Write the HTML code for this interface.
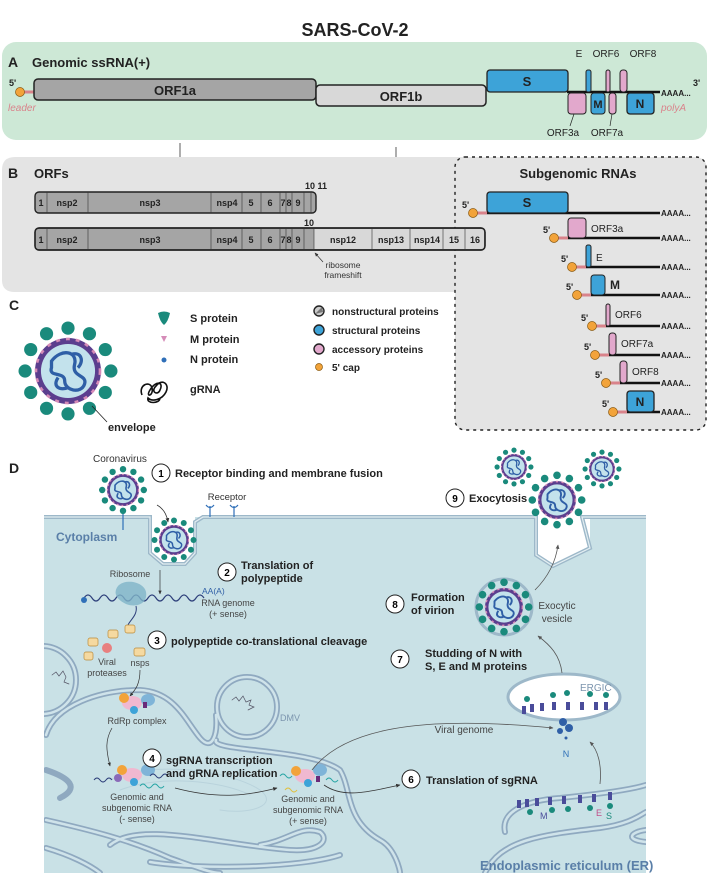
<!DOCTYPE html>
<html><head><meta charset="utf-8"><style>
html,body{margin:0;padding:0;background:#fff}
svg{display:block}
text{font-family:"Liberation Sans Narrow","Liberation Sans",sans-serif}
.b{font-weight:bold}
</style></head><body>
<svg width="709" height="888" viewBox="0 0 709 888" xmlns="http://www.w3.org/2000/svg">
<defs>
<marker id="ar" viewBox="0 0 10 10" refX="8" refY="5" markerWidth="6" markerHeight="6" orient="auto"><path d="M0,1 L9,5 L0,9 z" fill="#333"/></marker>
<marker id="ag" viewBox="0 0 10 10" refX="8" refY="5" markerWidth="6" markerHeight="6" orient="auto"><path d="M0,1 L9,5 L0,9 z" fill="#555"/></marker>
<clipPath id="cell"><rect x="44" y="517" width="602" height="356"/></clipPath>
<g id="vir">
 <g fill="#1a8a7c">
  <circle cx="0" cy="-1.3" r="0.2"/><circle cx="0.65" cy="-1.13" r="0.2"/><circle cx="1.13" cy="-0.65" r="0.2"/><circle cx="1.3" cy="0" r="0.2"/><circle cx="1.13" cy="0.65" r="0.2"/><circle cx="0.65" cy="1.13" r="0.2"/><circle cx="0" cy="1.3" r="0.2"/><circle cx="-0.65" cy="1.13" r="0.2"/><circle cx="-1.13" cy="0.65" r="0.2"/><circle cx="-1.3" cy="0" r="0.2"/><circle cx="-1.13" cy="-0.65" r="0.2"/><circle cx="-0.65" cy="-1.13" r="0.2"/>
 </g>
 <circle r="1" fill="#5b3e8e"/>
 <circle r="0.97" fill="none" stroke="#d58cb8" stroke-width="0.08" stroke-dasharray="0.12 0.18"/>
 <circle r="0.82" fill="#c3e2ec"/>
 <path d="M-0.5,-0.3 C-0.2,-0.7 0.3,-0.6 0.2,-0.2 C0.1,0.2 0.6,0.1 0.5,0.4 C0.4,0.7 -0.1,0.6 -0.1,0.3 C-0.1,0 -0.6,0.2 -0.5,-0.1 Z M-0.3,0.2 C-0.5,0.5 -0.2,0.6 0,0.5 M0.1,-0.5 C0.4,-0.6 0.5,-0.3 0.3,-0.1" fill="none" stroke="#2f5fa6" stroke-width="0.1"/>
</g>
</defs>

<text x="355" y="36" text-anchor="middle" class="b" font-size="18" fill="#222">SARS-CoV-2</text>

<!-- Panel A -->
<rect x="2" y="42" width="705" height="98" rx="14" fill="#cde8d6"/>
<text x="8" y="67" class="b" font-size="14" fill="#222">A</text>
<text x="32" y="67" class="b" font-size="13" fill="#222">Genomic ssRNA(+)</text>
<line x1="22" y1="92" x2="34" y2="92" stroke="#d9838b" stroke-width="3"/>
<circle cx="20" cy="92" r="4.5" fill="#f2a33a" stroke="#8a5a10" stroke-width="0.7"/>
<text x="9" y="86" class="b" font-size="9" fill="#222">5'</text>
<text x="8" y="111" font-size="10" font-style="italic" fill="#d9838b">leader</text>
<line x1="567" y1="92" x2="660" y2="92" stroke="#111" stroke-width="2.5"/>
<rect x="34" y="79" width="282" height="21" rx="4" fill="#a5a5a5" stroke="#222" stroke-width="1.5"/>
<text x="175" y="95" text-anchor="middle" class="b" font-size="13" fill="#222">ORF1a</text>
<rect x="316" y="85" width="170" height="21" rx="4" fill="#d8d8d8" stroke="#222" stroke-width="1.5"/>
<text x="401" y="101" text-anchor="middle" class="b" font-size="13" fill="#222">ORF1b</text>
<rect x="487" y="70" width="81" height="22" rx="3" fill="#3da3d8" stroke="#222" stroke-width="1.3"/>
<text x="527" y="86" text-anchor="middle" class="b" font-size="13" fill="#222">S</text>
<rect x="586" y="70" width="5" height="22" rx="2" fill="#3da3d8" stroke="#222" stroke-width="1"/>
<rect x="606" y="70" width="4" height="22" rx="2" fill="#e2a8cc" stroke="#222" stroke-width="1"/>
<rect x="620" y="70" width="7" height="22" rx="3" fill="#e2a8cc" stroke="#222" stroke-width="1"/>
<rect x="568" y="93" width="18" height="21" rx="3" fill="#e2a8cc" stroke="#222" stroke-width="1"/>
<rect x="591" y="93" width="14" height="21" rx="3" fill="#3da3d8" stroke="#222" stroke-width="1"/>
<text x="598" y="108" text-anchor="middle" class="b" font-size="11" fill="#222">M</text>
<rect x="609" y="93" width="7" height="21" rx="3" fill="#e2a8cc" stroke="#222" stroke-width="1"/>
<rect x="627" y="93" width="27" height="21" rx="3" fill="#3da3d8" stroke="#222" stroke-width="1.3"/>
<text x="640" y="108" text-anchor="middle" class="b" font-size="12" fill="#222">N</text>
<text x="579" y="57" text-anchor="middle" font-size="10" fill="#222">E</text>
<text x="606" y="57" text-anchor="middle" font-size="10" fill="#222">ORF6</text>
<text x="643" y="57" text-anchor="middle" font-size="10" fill="#222">ORF8</text>
<text x="563" y="136" text-anchor="middle" font-size="10" fill="#222">ORF3a</text>
<text x="607" y="136" text-anchor="middle" font-size="10" fill="#222">ORF7a</text>
<line x1="574" y1="114" x2="570" y2="126" stroke="#222" stroke-width="0.7"/>
<line x1="612" y1="114" x2="610" y2="126" stroke="#222" stroke-width="0.7"/>
<text x="661" y="96" class="b" font-size="8" fill="#222">AAAA...</text>
<text x="693" y="86" class="b" font-size="9" fill="#222">3'</text>
<text x="661" y="111" font-size="10" font-style="italic" fill="#d9838b">polyA</text>

<line x1="180" y1="143" x2="180" y2="176" stroke="#333" stroke-width="0.8" marker-end="url(#ar)"/>
<line x1="396" y1="147" x2="396" y2="218" stroke="#333" stroke-width="0.8" marker-end="url(#ar)"/>

<!-- Panel B -->
<path d="M2,170 Q2,157 15,157 L694,157 Q707,157 707,170 L707,292 L15,292 Q2,292 2,280 Z" fill="#e4e4e4"/>
<rect x="455" y="157" width="251" height="273" rx="10" fill="#e4e4e4" stroke="#222" stroke-width="1.4" stroke-dasharray="3 4"/>
<text x="8" y="178" class="b" font-size="14" fill="#222">B</text>
<text x="34" y="178" class="b" font-size="13" fill="#222">ORFs</text>

<g font-size="9" fill="#222" text-anchor="middle" class="b">
<rect x="35" y="192" width="281" height="21" rx="4" fill="#a5a5a5" stroke="#222" stroke-width="1.4"/>
<g stroke="#333" stroke-width="0.6">
<line x1="47" y1="192" x2="47" y2="213"/><line x1="88" y1="192" x2="88" y2="213"/><line x1="211" y1="192" x2="211" y2="213"/><line x1="242" y1="192" x2="242" y2="213"/><line x1="261" y1="192" x2="261" y2="213"/><line x1="280" y1="192" x2="280" y2="213"/><line x1="286" y1="192" x2="286" y2="213"/><line x1="292" y1="192" x2="292" y2="213"/><line x1="304" y1="192" x2="304" y2="213"/><line x1="311" y1="192" x2="311" y2="213"/>
</g>
<text x="41" y="206">1</text><text x="67" y="206">nsp2</text><text x="150" y="206">nsp3</text><text x="227" y="206">nsp4</text><text x="251" y="206">5</text><text x="270" y="206">6</text><text x="283" y="206">7</text><text x="289" y="206">8</text><text x="298" y="206">9</text>
<text x="316" y="189">10 11</text>

<rect x="35" y="228" width="450" height="22" rx="4" fill="#a5a5a5" stroke="#222" stroke-width="1.4"/>
<path d="M314,229 L481,229 Q484,229 484,232 L484,246 Q484,249 481,249 L314,249 Z" fill="#d8d8d8"/>
<rect x="35" y="228" width="450" height="22" rx="4" fill="none" stroke="#222" stroke-width="1.4"/>
<g stroke="#333" stroke-width="0.6">
<line x1="47" y1="228" x2="47" y2="250"/><line x1="88" y1="228" x2="88" y2="250"/><line x1="211" y1="228" x2="211" y2="250"/><line x1="242" y1="228" x2="242" y2="250"/><line x1="261" y1="228" x2="261" y2="250"/><line x1="280" y1="228" x2="280" y2="250"/><line x1="286" y1="228" x2="286" y2="250"/><line x1="292" y1="228" x2="292" y2="250"/><line x1="304" y1="228" x2="304" y2="250"/><line x1="314" y1="228" x2="314" y2="250"/><line x1="372" y1="228" x2="372" y2="250"/><line x1="410" y1="228" x2="410" y2="250"/><line x1="443" y1="228" x2="443" y2="250"/><line x1="465" y1="228" x2="465" y2="250"/>
</g>
<text x="41" y="243">1</text><text x="67" y="243">nsp2</text><text x="150" y="243">nsp3</text><text x="227" y="243">nsp4</text><text x="251" y="243">5</text><text x="270" y="243">6</text><text x="283" y="243">7</text><text x="289" y="243">8</text><text x="298" y="243">9</text>
<text x="309" y="226">10</text>
<text x="343" y="243">nsp12</text><text x="391" y="243">nsp13</text><text x="427" y="243">nsp14</text><text x="454" y="243">15</text><text x="475" y="243">16</text>
</g>
<line x1="323" y1="262" x2="315" y2="253" stroke="#333" stroke-width="0.7" marker-end="url(#ar)"/>
<text x="343" y="268" text-anchor="middle" font-size="8.5" fill="#333">ribosome</text>
<text x="343" y="278" text-anchor="middle" font-size="8.5" fill="#333">frameshift</text>

<!-- Subgenomic RNAs -->
<text x="578" y="178" text-anchor="middle" class="b" font-size="13" fill="#222">Subgenomic RNAs</text>
<g font-size="8" fill="#222" class="b">
<line x1="475" y1="213" x2="487" y2="213" stroke="#d9838b" stroke-width="3"/><line x1="487" y1="213" x2="660" y2="213" stroke="#111" stroke-width="2.5"/>
<rect x="487" y="192" width="81" height="21" rx="3" fill="#3da3d8" stroke="#222" stroke-width="1.3"/>
<text x="527" y="207" text-anchor="middle" font-size="13">S</text>
<circle cx="473" cy="213" r="4.5" fill="#f2a33a" stroke="#8a5a10" stroke-width="0.7"/><text x="462" y="208" font-size="9">5'</text><text x="661" y="216">AAAA...</text>
<line x1="556" y1="238" x2="568" y2="238" stroke="#d9838b" stroke-width="3"/><line x1="568" y1="238" x2="660" y2="238" stroke="#111" stroke-width="2.5"/>
<rect x="568" y="218" width="18" height="20" rx="3" fill="#e2a8cc" stroke="#222" stroke-width="1"/>
<circle cx="554" cy="238" r="4.5" fill="#f2a33a" stroke="#8a5a10" stroke-width="0.7"/><text x="543" y="233" font-size="9">5'</text><text x="661" y="241">AAAA...</text>
<text x="591" y="232" font-size="10" font-weight="normal">ORF3a</text>
<line x1="574" y1="267" x2="586" y2="267" stroke="#d9838b" stroke-width="3"/><line x1="586" y1="267" x2="660" y2="267" stroke="#111" stroke-width="2.5"/>
<rect x="586" y="245" width="5" height="22" rx="2" fill="#3da3d8" stroke="#222" stroke-width="1"/>
<circle cx="572" cy="267" r="4.5" fill="#f2a33a" stroke="#8a5a10" stroke-width="0.7"/><text x="561" y="262" font-size="9">5'</text><text x="661" y="270">AAAA...</text>
<text x="596" y="261" font-size="10" font-weight="normal">E</text>
<line x1="579" y1="295" x2="591" y2="295" stroke="#d9838b" stroke-width="3"/><line x1="591" y1="295" x2="660" y2="295" stroke="#111" stroke-width="2.5"/>
<rect x="591" y="275" width="14" height="20" rx="3" fill="#3da3d8" stroke="#222" stroke-width="1"/>
<circle cx="577" cy="295" r="4.5" fill="#f2a33a" stroke="#8a5a10" stroke-width="0.7"/><text x="566" y="290" font-size="9">5'</text><text x="661" y="298">AAAA...</text>
<text x="610" y="289" font-size="12">M</text>
<line x1="594" y1="326" x2="606" y2="326" stroke="#d9838b" stroke-width="3"/><line x1="606" y1="326" x2="660" y2="326" stroke="#111" stroke-width="2.5"/>
<rect x="606" y="304" width="4" height="22" rx="2" fill="#e2a8cc" stroke="#222" stroke-width="1"/>
<circle cx="592" cy="326" r="4.5" fill="#f2a33a" stroke="#8a5a10" stroke-width="0.7"/><text x="581" y="321" font-size="9">5'</text><text x="661" y="329">AAAA...</text>
<text x="615" y="318" font-size="10" font-weight="normal">ORF6</text>
<line x1="597" y1="355" x2="609" y2="355" stroke="#d9838b" stroke-width="3"/><line x1="609" y1="355" x2="660" y2="355" stroke="#111" stroke-width="2.5"/>
<rect x="609" y="333" width="7" height="22" rx="3" fill="#e2a8cc" stroke="#222" stroke-width="1"/>
<circle cx="595" cy="355" r="4.5" fill="#f2a33a" stroke="#8a5a10" stroke-width="0.7"/><text x="584" y="350" font-size="9">5'</text><text x="661" y="358">AAAA...</text>
<text x="621" y="347" font-size="10" font-weight="normal">ORF7a</text>
<line x1="608" y1="383" x2="620" y2="383" stroke="#d9838b" stroke-width="3"/><line x1="620" y1="383" x2="660" y2="383" stroke="#111" stroke-width="2.5"/>
<rect x="620" y="361" width="7" height="22" rx="3" fill="#e2a8cc" stroke="#222" stroke-width="1"/>
<circle cx="606" cy="383" r="4.5" fill="#f2a33a" stroke="#8a5a10" stroke-width="0.7"/><text x="595" y="378" font-size="9">5'</text><text x="661" y="386">AAAA...</text>
<text x="632" y="375" font-size="10" font-weight="normal">ORF8</text>
<line x1="615" y1="412" x2="627" y2="412" stroke="#d9838b" stroke-width="3"/><line x1="627" y1="412" x2="660" y2="412" stroke="#111" stroke-width="2.5"/>
<rect x="627" y="391" width="27" height="21" rx="3" fill="#3da3d8" stroke="#222" stroke-width="1.3"/>
<text x="640" y="406" text-anchor="middle" font-size="12">N</text>
<circle cx="613" cy="412" r="4.5" fill="#f2a33a" stroke="#8a5a10" stroke-width="0.7"/><text x="602" y="407" font-size="9">5'</text><text x="661" y="415">AAAA...</text>
</g>

<!-- Panel C -->
<text x="9" y="310" class="b" font-size="14" fill="#222">C</text>
<use href="#vir" transform="translate(68,371) scale(33)"/>
<line x1="92" y1="406" x2="107" y2="422" stroke="#222" stroke-width="0.8"/>
<text x="108" y="431" class="b" font-size="11" fill="#222">envelope</text>
<path d="M158,313 Q164,310 170,313 Q168,322 164,325 Q160,322 158,313 Z" fill="#1a8a7c"/>
<text x="190" y="322" class="b" font-size="11" fill="#222">S protein</text>
<path d="M161,336 L167,336 L164,342 Z" fill="#d58cb8"/>
<text x="190" y="343" class="b" font-size="11" fill="#222">M protein</text>
<circle cx="164" cy="360" r="2.5" fill="#2f6fb8"/>
<text x="190" y="363" class="b" font-size="11" fill="#222">N protein</text>
<path d="M142,395 C138,385 150,380 152,388 C154,396 145,398 150,390 C156,380 164,382 160,390 C158,396 150,392 156,386 C162,378 170,384 166,392 C162,400 152,402 148,398 C146,404 160,404 160,398" fill="none" stroke="#111" stroke-width="1.6"/>
<text x="190" y="393" class="b" font-size="11" fill="#222">gRNA</text>
<circle cx="319" cy="311" r="5" fill="#ccc" stroke="#222" stroke-width="1.4"/><path d="M315,314 L322,307 L323,312 Z" fill="#777"/>
<text x="332" y="315" class="b" font-size="10" fill="#222">nonstructural proteins</text>
<circle cx="319" cy="330" r="5" fill="#3da3d8" stroke="#222" stroke-width="1.4"/>
<text x="332" y="334" class="b" font-size="10" fill="#222">structural proteins</text>
<circle cx="319" cy="349" r="5" fill="#e2a8cc" stroke="#222" stroke-width="1.4"/>
<text x="332" y="353" class="b" font-size="10" fill="#222">accessory proteins</text>
<circle cx="319" cy="367" r="3.5" fill="#f2a33a" stroke="#8a5a10" stroke-width="0.7"/>
<text x="332" y="371" class="b" font-size="10" fill="#222">5' cap</text>

<!-- Panel D -->
<text x="9" y="473" class="b" font-size="14" fill="#222">D</text>
<text x="93" y="462" font-size="10" fill="#333">Coronavirus</text>
<path d="M44,517 L150,517 L150,553 L163,564 L185,564 L195,553 L195,517 L536,517 L536,555 L553,566 L590,548 L590,517 L646,517 L646,873 L44,873 Z" fill="#c9e1e6"/>
<path d="M44,517 L150,517 L150,553 L163,564 L185,564 L195,553 L195,522 L203,517 L536,517 L536,555 L553,566 L590,548 L582,517 L646,517" fill="none" stroke="#9db8c9" stroke-width="4"/>
<path d="M44,517 L150,517 L150,553 L163,564 L185,564 L195,553 L195,522 L203,517 L536,517 L536,555 L553,566 L590,548 L582,517 L646,517" fill="none" stroke="#e3eef2" stroke-width="1.2"/>
<path d="M538,520 L538,553 L553,562 L586,547 L580,520 Z" fill="#fff"/>
<g stroke="#2f6fb8" stroke-width="1.2" fill="none">
<path d="M210,506 L210,517 M206,505 Q210,510 214,505"/>
<path d="M234,506 L234,517 M230,505 Q234,510 238,505"/>
<path d="M123,510 L123,530"/>
</g>
<text x="227" y="500" text-anchor="middle" font-size="9.5" fill="#333">Receptor</text>
<text x="56" y="541" class="b" font-size="12" fill="#5a7fa8">Cytoplasm</text>

<use href="#vir" transform="translate(123,490) scale(16)"/>
<use href="#vir" transform="translate(174,540) scale(15)"/>
<use href="#vir" transform="translate(557,500) scale(19)"/>
<use href="#vir" transform="translate(514,467) scale(13)"/>
<use href="#vir" transform="translate(602,469) scale(13)"/>
<path d="M157,505 Q166,510 168,522" fill="none" stroke="#333" stroke-width="0.8" marker-end="url(#ar)"/>

<circle cx="161" cy="473" r="9" fill="#fff" stroke="#222" stroke-width="1"/><text x="161" y="477" text-anchor="middle" class="b" font-size="10">1</text>
<text x="175" y="477" class="b" font-size="11" fill="#222">Receptor binding and membrane fusion</text>
<circle cx="455" cy="498" r="9" fill="#fff" stroke="#222" stroke-width="1"/><text x="455" y="502" text-anchor="middle" class="b" font-size="10">9</text>
<text x="469" y="502" class="b" font-size="11" fill="#222">Exocytosis</text>

<!-- ER membranes -->
<g fill="none" stroke-linecap="round" clip-path="url(#cell)">
<g stroke="#8fa9c0" stroke-width="6">
<path d="M46,735 C55,705 100,690 140,690 C175,692 185,720 200,738 C212,752 218,735 216,715"/>
<path d="M216,740 C210,752 310,748 340,770 C352,790 345,820 380,840 C395,848 400,870 400,873"/>
<path d="M46,820 C90,830 130,840 170,858 C190,865 210,873 220,873"/>
<path d="M46,848 C70,855 90,865 100,873"/>
<path d="M110,845 C140,820 220,845 290,850 C320,852 330,840 320,832 C300,825 290,840 260,845"/>
<path d="M150,862 C200,870 300,868 340,855"/>
<path d="M485,873 C500,840 540,835 600,828 C630,824 640,815 646,812"/>
<path d="M505,832 C500,810 530,800 560,798 C600,794 630,790 646,785"/>
<path d="M646,830 C630,832 625,840 646,842"/>
<path d="M46,770 C70,778 80,788 60,798"/>
<circle cx="247" cy="707" r="30"/>
<circle cx="42" cy="680" r="34"/>
</g>
<g stroke="#cfe3ea" stroke-width="2.5">
<path d="M46,735 C55,705 100,690 140,690 C175,692 185,720 200,738 C212,752 218,735 216,715"/>
<path d="M216,740 C210,752 310,748 340,770 C352,790 345,820 380,840 C395,848 400,870 400,873"/>
<path d="M46,820 C90,830 130,840 170,858 C190,865 210,873 220,873"/>
<path d="M46,848 C70,855 90,865 100,873"/>
<path d="M110,845 C140,820 220,845 290,850 C320,852 330,840 320,832 C300,825 290,840 260,845"/>
<path d="M150,862 C200,870 300,868 340,855"/>
<path d="M485,873 C500,840 540,835 600,828 C630,824 640,815 646,812"/>
<path d="M505,832 C500,810 530,800 560,798 C600,794 630,790 646,785"/>
<path d="M646,830 C630,832 625,840 646,842"/>
<circle cx="247" cy="707" r="30"/>
<circle cx="42" cy="680" r="34"/>
</g>
<path d="M110,780 C150,760 230,770 260,790 C280,805 250,815 220,810" stroke="#b9d3dc" stroke-width="1"/>
<path d="M120,790 C160,775 220,780 250,795" stroke="#b9d3dc" stroke-width="1"/>
<path d="M232,700 l4,-3 l3,4 l4,-5 l3,6 l5,-2 l-2,5 l5,2 l-6,3" stroke="#556" stroke-width="0.7"/>
<path d="M52,675 l4,-3 l3,4 l4,-5 l3,6 l-2,5 l5,2" stroke="#556" stroke-width="0.7"/>
</g>
<text x="280" y="721" font-size="9" fill="#7c95ae">DMV</text>

<!-- ERGIC -->
<ellipse cx="564" cy="697" rx="56" ry="23" fill="#fff" stroke="#9db8c9" stroke-width="3"/>
<text x="580" y="691" font-size="10" fill="#7c95ae">ERGIC</text>
<g fill="#4a4c9a"><rect x="522" y="706" width="4" height="8"/><rect x="530" y="704" width="4" height="8"/><rect x="540" y="703" width="4" height="8"/><rect x="552" y="702" width="4" height="8"/><rect x="566" y="702" width="4" height="8"/><rect x="580" y="702" width="4" height="8"/><rect x="594" y="702" width="4" height="8"/><rect x="604" y="702" width="4" height="8"/></g>
<g fill="#1a8a7c"><circle cx="527" cy="699" r="3"/><circle cx="553" cy="695" r="3"/><circle cx="567" cy="693" r="3"/><circle cx="590" cy="694" r="3"/><circle cx="606" cy="695" r="3"/></g>
<g fill="#2f5fa6"><circle cx="563" cy="722" r="4"/><circle cx="569" cy="728" r="4"/><circle cx="560" cy="731" r="3"/><circle cx="566" cy="738" r="1.5"/></g>
<text x="566" y="757" text-anchor="middle" font-size="9" fill="#2f6fb8">N</text>
<g fill="#4a4c9a"><rect x="517" y="800" width="4" height="8"/><rect x="525" y="799" width="4" height="8"/><rect x="535" y="798" width="4" height="8"/><rect x="548" y="797" width="4" height="8"/><rect x="562" y="796" width="4" height="8"/><rect x="578" y="795" width="4" height="8"/><rect x="592" y="794" width="4" height="8"/><rect x="608" y="792" width="4" height="8"/></g>
<g fill="#1a8a7c"><circle cx="530" cy="812" r="3"/><circle cx="552" cy="810" r="3"/><circle cx="568" cy="809" r="3"/><circle cx="590" cy="808" r="3"/><circle cx="610" cy="806" r="3"/></g>
<text x="540" y="819" font-size="9" fill="#4a4c9a">M</text>
<text x="596" y="816" font-size="9" fill="#c0508a">E</text>
<text x="606" y="819" font-size="9" fill="#1a8a7c">S</text>
<text x="480" y="870" class="b" font-size="13" fill="#5a7fa8">Endoplasmic reticulum (ER)</text>

<circle cx="504" cy="607" r="28" fill="#c9e1e6" stroke="#9db8c9" stroke-width="3"/>
<use href="#vir" transform="translate(504,607) scale(19)"/>
<text x="557" y="609" text-anchor="middle" font-size="10" fill="#444">Exocytic</text>
<text x="557" y="622" text-anchor="middle" font-size="10" fill="#444">vesicle</text>

<path d="M84,598 q4,-6 8,0 q4,6 8,0 q4,-6 8,0 q4,6 8,0 q4,-6 8,0 q4,6 8,0 q4,-6 8,0 q4,6 8,0 q4,-6 8,0 q4,6 8,0 q4,-6 8,0 q4,6 8,0 q4,-6 8,0 q4,6 8,0 q4,-6 8,0" fill="none" stroke="#2d3f7a" stroke-width="1.2"/>
<circle cx="84" cy="600" r="3" fill="#2f6fb8"/>
<path d="M118,586 C126,578 144,582 146,592 C148,604 136,608 126,604 C118,600 112,594 118,586Z" fill="#7fb4c8" opacity="0.8"/>
<text x="130" y="577" text-anchor="middle" font-size="9" fill="#444">Ribosome</text>
<line x1="160" y1="570" x2="160" y2="594" stroke="#333" stroke-width="0.7" marker-end="url(#ar)"/>
<text x="202" y="594" font-size="8.5" fill="#2f5fa6">AA(A)</text>
<text x="228" y="606" text-anchor="middle" font-size="9" fill="#444">RNA genome</text>
<text x="228" y="617" text-anchor="middle" font-size="9" fill="#444">(+ sense)</text>
<circle cx="227" cy="572" r="9" fill="#fff" stroke="#222"/><text x="227" y="576" text-anchor="middle" class="b" font-size="10">2</text>
<text x="241" y="569" class="b" font-size="11" fill="#222">Translation of</text>
<text x="241" y="582" class="b" font-size="11" fill="#222">polypeptide</text>
<path d="M136,606 C138,615 130,620 128,625" fill="none" stroke="#2d3f7a" stroke-width="1"/>
<g fill="#f5d9a0" stroke="#b98a3a" stroke-width="0.7">
<rect x="125" y="625" width="10" height="8" rx="2"/><rect x="108" y="630" width="10" height="8" rx="2"/><rect x="88" y="638" width="10" height="8" rx="2"/><rect x="84" y="652" width="9" height="8" rx="2"/><rect x="134" y="648" width="11" height="8" rx="2"/>
</g>
<circle cx="107" cy="648" r="5" fill="#e88080"/>
<text x="107" y="665" text-anchor="middle" font-size="9" fill="#444">Viral</text>
<text x="107" y="676" text-anchor="middle" font-size="9" fill="#444">proteases</text>
<text x="140" y="666" text-anchor="middle" font-size="9" fill="#444">nsps</text>
<circle cx="157" cy="640" r="9" fill="#fff" stroke="#222"/><text x="157" y="644" text-anchor="middle" class="b" font-size="10">3</text>
<text x="171" y="645" class="b" font-size="11" fill="#222">polypeptide co-translational cleavage</text>
<path d="M140,670 C140,685 135,690 130,696" fill="none" stroke="#333" stroke-width="0.7" marker-end="url(#ar)"/>
<g>
<ellipse cx="132" cy="703" rx="10" ry="7" fill="#f0b8d0"/><circle cx="124" cy="698" r="5" fill="#f2a33a"/><ellipse cx="148" cy="700" rx="7" ry="6" fill="#7fb4d8"/><circle cx="134" cy="710" r="4" fill="#3da3d8"/><rect x="143" y="702" width="4" height="6" fill="#6a2a7a"/>
</g>
<text x="137" y="724" text-anchor="middle" font-size="9" fill="#444">RdRp complex</text>
<path d="M112,728 C105,740 106,750 110,766" fill="none" stroke="#333" stroke-width="0.7" marker-end="url(#ar)"/>
<g>
<ellipse cx="132" cy="775" rx="10" ry="7" fill="#f0b8d0"/><circle cx="122" cy="770" r="5" fill="#f2a33a"/><ellipse cx="148" cy="770" rx="7" ry="6" fill="#7fb4d8"/><circle cx="134" cy="782" r="4" fill="#3da3d8"/><circle cx="118" cy="778" r="4" fill="#8a6ab8"/>
<path d="M94,780 q3,-4 6,0 q3,4 6,0 q3,-4 6,0 M150,776 q3,-4 6,0 q3,4 6,0 q3,-4 6,0" fill="none" stroke="#2d3f7a"/>
<path d="M140,786 q3,-4 6,0 q3,4 6,0 q3,-4 6,0 q3,4 6,0" fill="none" stroke="#2aa6a6"/>
</g>
<text x="137" y="800" text-anchor="middle" font-size="9" fill="#444">Genomic and</text>
<text x="137" y="811" text-anchor="middle" font-size="9" fill="#444">subgenomic RNA</text>
<text x="137" y="822" text-anchor="middle" font-size="9" fill="#444">(- sense)</text>
<circle cx="152" cy="758" r="9" fill="#fff" stroke="#222"/><text x="152" y="762" text-anchor="middle" class="b" font-size="10">4</text>
<text x="166" y="764" class="b" font-size="11" fill="#222">sgRNA transcription</text>
<text x="166" y="777" class="b" font-size="11" fill="#222">and gRNA replication</text>
<path d="M175,788 C220,800 250,795 277,788" fill="none" stroke="#333" stroke-width="0.8" marker-end="url(#ar)"/>
<g>
<ellipse cx="305" cy="776" rx="10" ry="7" fill="#f0b8d0"/><circle cx="296" cy="771" r="5" fill="#f2a33a"/><ellipse cx="320" cy="770" rx="7" ry="6" fill="#7fb4d8"/><circle cx="308" cy="783" r="4" fill="#3da3d8"/><rect x="316" y="776" width="4" height="6" fill="#6a2a7a"/>
<path d="M280,776 q3,-4 6,0 q3,4 6,0 M326,780 q3,-4 6,0 q3,4 6,0" fill="none" stroke="#2aa6a6"/>
<path d="M285,790 q3,-4 6,0 q3,4 6,0" fill="none" stroke="#e0c040"/>
</g>
<text x="308" y="802" text-anchor="middle" font-size="9" fill="#444">Genomic and</text>
<text x="308" y="813" text-anchor="middle" font-size="9" fill="#444">subgenomic RNA</text>
<text x="308" y="824" text-anchor="middle" font-size="9" fill="#444">(+ sense)</text>
<path d="M324,785 C345,800 375,790 400,785" fill="none" stroke="#333" stroke-width="0.8" marker-end="url(#ar)"/>
<path d="M312,770 C350,720 450,718 553,728" fill="none" stroke="#555" stroke-width="0.8" marker-end="url(#ag)"/>
<text x="464" y="733" text-anchor="middle" font-size="10" fill="#444">Viral genome</text>
<circle cx="411" cy="779" r="9" fill="#fff" stroke="#222"/><text x="411" y="783" text-anchor="middle" class="b" font-size="10">6</text>
<text x="426" y="784" class="b" font-size="11" fill="#222">Translation of sgRNA</text>
<path d="M600,784 C602,765 598,750 590,742" fill="none" stroke="#555" stroke-width="0.8" marker-end="url(#ag)"/>
<path d="M562,673 C560,655 550,645 538,636" fill="none" stroke="#555" stroke-width="0.8" marker-end="url(#ag)"/>
<path d="M535,590 C550,575 556,560 558,545" fill="none" stroke="#555" stroke-width="0.8" marker-end="url(#ag)"/>
<circle cx="400" cy="659" r="9" fill="#fff" stroke="#222"/><text x="400" y="663" text-anchor="middle" class="b" font-size="10">7</text>
<text x="425" y="657" class="b" font-size="11" fill="#222">Studding of N with</text>
<text x="425" y="670" class="b" font-size="11" fill="#222">S, E and M proteins</text>
<circle cx="395" cy="604" r="9" fill="#fff" stroke="#222"/><text x="395" y="608" text-anchor="middle" class="b" font-size="10">8</text>
<text x="411" y="601" class="b" font-size="11" fill="#222">Formation</text>
<text x="411" y="614" class="b" font-size="11" fill="#222">of virion</text>
</svg>
</body></html>
